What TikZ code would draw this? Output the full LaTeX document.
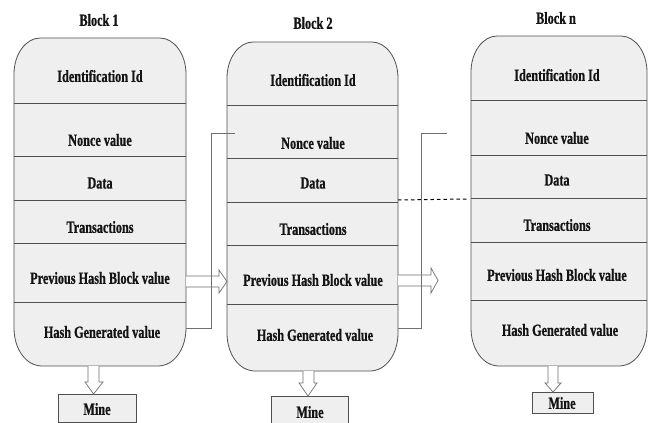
\documentclass[tikz,border=0pt]{standalone}
\usepackage{fontspec}
\newfontfamily\blkfont[FakeStretch=0.72,BoldFeatures={FakeStretch=0.72,FakeBold=0.8}]{Liberation Serif}
\definecolor{blkfill}{HTML}{EFEFEF}
\definecolor{blkline}{HTML}{505050}
\definecolor{conline}{HTML}{707070}
\definecolor{txt}{HTML}{141414}
\newcommand{\chainblockoutline}[4]{%
  \draw[blockbody] (#1,{#3+36}) -- (#1,{#4-38})
    .. controls (#1,{#4-17}) and ({#1+12},#4) .. ({#1+28},#4)
    -- ({#2-28},#4)
    .. controls ({#2-12},#4) and (#2,{#4-17}) .. (#2,{#4-38})
    -- (#2,{#3+36})
    .. controls (#2,{#3+16}) and ({#2-12},#3) .. ({#2-26},#3)
    -- ({#1+26},#3)
    .. controls ({#1+12},#3) and (#1,{#3+16}) .. cycle;}
\begin{document}
\begin{tikzpicture}[x=1pt,y=-1pt,
  blockbody/.style={draw=blkline,fill=blkfill,line width=0.8pt},
  rowline/.style={draw=blkline,line width=0.9pt},
  lbl/.style={text=txt,font=\blkfont\bfseries\fontsize{17}{20}\selectfont,inner sep=0pt},
  minebox/.style={draw=blkline,fill=blkfill,line width=0.8pt},
  hollow/.style={draw=conline,fill=white,line width=0.7pt,line join=miter},
  feed/.style={draw=conline,line width=0.7pt},
  dots/.style={draw=black,line width=1pt,dash pattern=on 3.5pt off 3pt}]
\useasboundingbox (0,0) rectangle (649,423);
\fill[white] (0,0) rectangle (649,423);

% ---------- Block 1 ----------
\chainblockoutline{14}{186}{38}{366}
\foreach \yy in {103,156,200,243,302} \draw[rowline] (14,\yy) -- (186,\yy);
\node[lbl] (t1) at (99,20) {Block 1};
\node[lbl] (b1id) at (100,76) {Identification Id};
\node[lbl] (b1nonce) at (100,140) {Nonce value};
\node[lbl] (b1data) at (100,183) {Data};
\node[lbl] (b1trans) at (100,227) {Transactions};
\node[lbl] (b1prev) at (100,278) {Previous Hash Block value};
\node[lbl] (b1hash) at (102,332) {Hash Generated value};
\draw[minebox] (58,394) rectangle (136,422);
\node[lbl] (m1) at (97,409) {Mine};

% ---------- Block 2 ----------
\chainblockoutline{227}{398}{42}{371}
\foreach \yy in {105,158,202,245,304} \draw[rowline] (227,\yy) -- (398,\yy);
\node[lbl] (t2) at (313,23) {Block 2};
\node[lbl] (b2id) at (313,80) {Identification Id};
\node[lbl] (b2nonce) at (313,143) {Nonce value};
\node[lbl] (b2data) at (313,183) {Data};
\node[lbl] (b2trans) at (313,229) {Transactions};
\node[lbl] (b2prev) at (313,280) {Previous Hash Block value};
\node[lbl] (b2hash) at (315,335) {Hash Generated value};
\draw[minebox] (271,396) rectangle (348,426);
\node[lbl] (m2) at (310,412) {Mine};

% ---------- Block n ----------
\chainblockoutline{471}{647}{36}{366}
\foreach \yy in {100,155,198,242,300} \draw[rowline] (471,\yy) -- (647,\yy);
\node[lbl] (tn) at (556,18) {Block n};
\node[lbl] (bnid) at (557,75) {Identification Id};
\node[lbl] (bnnonce) at (557,138) {Nonce value};
\node[lbl] (bndata) at (557,180) {Data};
\node[lbl] (bntrans) at (557,225) {Transactions};
\node[lbl] (bnprev) at (557,275) {Previous Hash Block value};
\node[lbl] (bnhash) at (560,330) {Hash Generated value};
\draw[minebox] (532,392) rectangle (593,413);
\node[lbl] (mn) at (562,403) {Mine};

% ---------- hollow arrows ----------
\draw[hollow] (186,276) -- (219,276) -- (219,270) -- (227,281.5) -- (219,293) -- (219,287) -- (186,287);
\draw[hollow] (398,275) -- (431,275) -- (431,268) -- (438,280.5) -- (431,293) -- (431,286) -- (398,286);
\draw[hollow] (88,366) -- (88,382) -- (85,382) -- (93.5,394) -- (103,382) -- (99,382) -- (99,366);
\draw[hollow] (303,371) -- (303,383) -- (299,383) -- (308,396) -- (317,383) -- (314,383) -- (314,371);
\draw[hollow] (548,366) -- (548,383) -- (545,383) -- (553,392) -- (561,383) -- (558,383) -- (558,366);

% ---------- feedback lines ----------
\coordinate (f1s) at (186,328);
\coordinate (f1e) at (235,133);
\coordinate (f2s) at (398,328);
\coordinate (f2e) at (447,133);
\draw[feed] (f1s) -- (211,328) -- (211,133) -- (f1e);
\draw[feed] (f2s) -- (421,328) -- (421,133) -- (f2e);

% ---------- dotted link ----------
\coordinate (d1) at (398,200);
\coordinate (d2) at (467,199);
\draw[dots] (d1) -- (d2);
\end{tikzpicture}
\end{document}
